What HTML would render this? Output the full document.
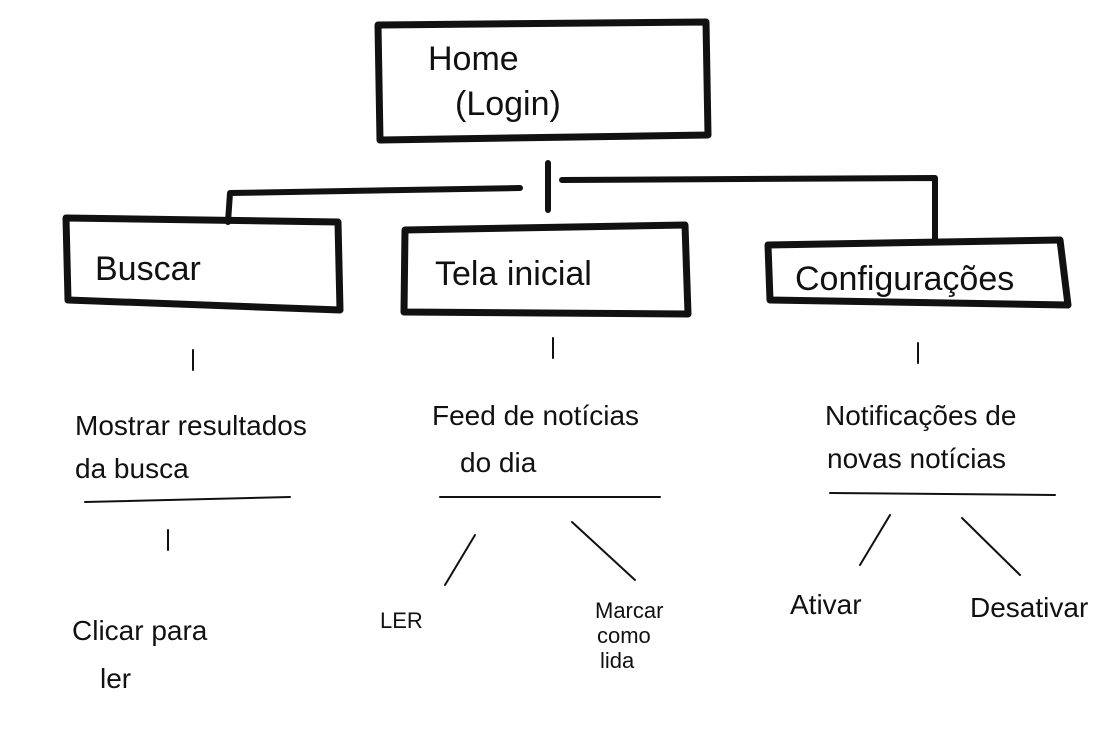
<!DOCTYPE html>
<html><head><meta charset="utf-8"><style>
html,body{margin:0;padding:0;background:#fff;}
svg{display:block}
text{font-family:"Liberation Sans",sans-serif;fill:#111;}
</style></head><body>
<svg width="1109" height="738" viewBox="0 0 1109 738" xmlns="http://www.w3.org/2000/svg">
<g fill="none" stroke="#111" stroke-linecap="round" stroke-linejoin="round">
 <!-- Home box -->
 <path d="M378,25 L706,22 L708,135 L380,140 Z" stroke-width="7"/>
 <!-- connectors -->
 <path d="M548,163 L548,210" stroke-width="6"/>
 <path d="M228,222 L230,193 L520,188" stroke-width="6"/>
 <path d="M562,180 L935,178 L935,240" stroke-width="6"/>
 <!-- boxes -->
 <path d="M66,218 L338,222 L340,310 L68,300 Z" stroke-width="7"/>
 <path d="M405,230 L685,225 L688,314 L404,312 Z" stroke-width="7"/>
 <path d="M768,245 L1060,240 L1068,305 L770,300 Z" stroke-width="7"/>
 <!-- ticks -->
 <path d="M193,350 L193,370" stroke-width="2"/>
 <path d="M553,338 L553,358" stroke-width="2"/>
 <path d="M918,343 L918,363" stroke-width="2"/>
 <path d="M168,530 L168,550" stroke-width="2"/>
 <!-- underlines -->
 <path d="M85,502 L290,497" stroke-width="2"/>
 <path d="M440,497 L660,497" stroke-width="2"/>
 <path d="M830,493 L1055,495" stroke-width="2"/>
 <!-- branches -->
 <path d="M475,535 L445,585" stroke-width="2"/>
 <path d="M572,522 L635,580" stroke-width="2"/>
 <path d="M890,515 L860,565" stroke-width="2"/>
 <path d="M962,518 L1020,575" stroke-width="2"/>
</g>
<g font-size="34">
 <text x="428" y="70">Home</text>
 <text x="455" y="115">(Login)</text>
 <text x="95" y="280">Buscar</text>
 <text x="435" y="285">Tela inicial</text>
 <text x="795" y="290">Configurações</text>
</g>
<g font-size="28">
 <text x="75" y="435">Mostrar resultados</text>
 <text x="75" y="478">da busca</text>
 <text x="432" y="425">Feed de notícias</text>
 <text x="460" y="472">do dia</text>
 <text x="825" y="425">Notificações de</text>
 <text x="827" y="468">novas notícias</text>
 <text x="72" y="640">Clicar para</text>
 <text x="100" y="688">ler</text>
 <text x="380" y="628" font-size="22">LER</text>
 <text x="595" y="618" font-size="22">Marcar</text>
 <text x="597" y="643" font-size="22">como</text>
 <text x="600" y="668" font-size="22">lida</text>
 <text x="790" y="614">Ativar</text>
 <text x="970" y="617">Desativar</text>
</g>
</svg>
</body></html>
